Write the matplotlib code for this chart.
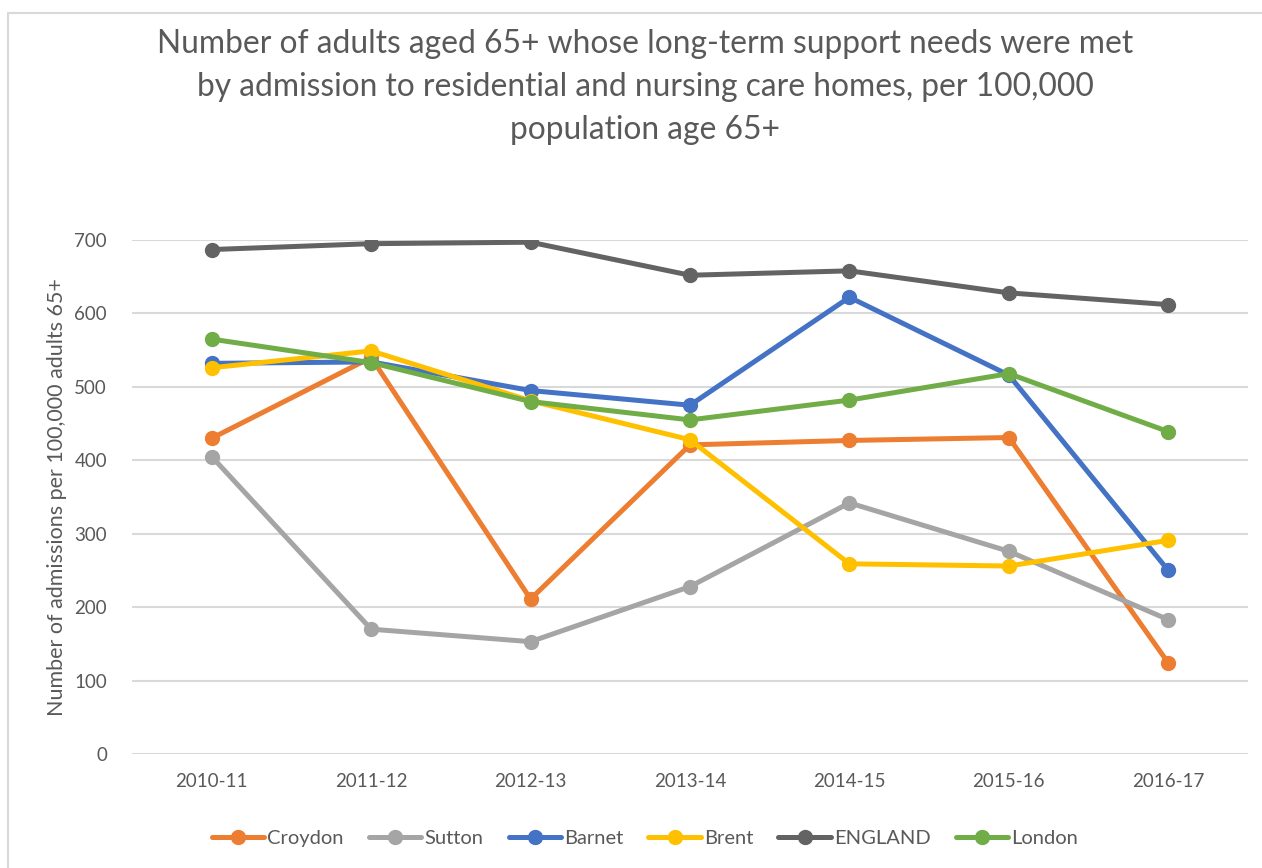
import matplotlib
matplotlib.use("Agg")
import matplotlib.pyplot as plt
from matplotlib.patches import Rectangle

years = ["2010-11", "2011-12", "2012-13", "2013-14", "2014-15", "2015-16", "2016-17"]

croydon = [430, 540, 211, 421, 427, 431, 124]
sutton = [405, 170, 153, 228, 342, 276, 183]
barnet = [532, 534, 495, 475, 622, 516, 250]
brent = [526, 549, 481, 428, 259, 256, 291]
england = [687, 695, 697, 652, 658, 628, 612]
london = [565, 533, 480, 455, 482, 518, 439]

series = [
    ("Croydon", croydon, "#ED7D31"),
    ("Sutton", sutton, "#A5A5A5"),
    ("Barnet", barnet, "#4472C4"),
    ("Brent", brent, "#FFC000"),
    ("ENGLAND", england, "#636363"),
    ("London", london, "#70AD47"),
]

title = ("Number of adults aged 65+ whose long-term support needs were met\n"
         "by admission to residential and nursing care homes, per 100,000\n"
         "population age 65+")

plt.rcParams["font.family"] = ["Lato", "DejaVu Sans"]
text_col = "#595959"
grid_col = "#D9D9D9"

fig = plt.figure(figsize=(12.62, 8.68), dpi=100)
ax = fig.add_axes([132 / 1262, 1 - 754 / 868, (1248 - 132) / 1262, (754 - 240) / 868])

# chart border (only top and left edges are visible in the reference)
fig.patches.append(Rectangle((8 / 1262, -0.1), 1.2, 1 - 13 / 868 + 0.1,
                             transform=fig.transFigure, fill=False,
                             edgecolor=grid_col, linewidth=1.5))

x = list(range(len(years)))
for name, vals, col in series:
    ax.plot(x, vals, color=col, linewidth=3.6, marker="o", markersize=10,
            label=name, solid_capstyle="round")

ax.set_xlim(-0.5, len(years) - 0.5)
ax.set_ylim(0, 700)
ax.set_yticks(range(0, 701, 100))
ax.set_xticks(x)
ax.set_xticklabels(years)
ax.grid(axis="y", color=grid_col, linewidth=1.5)
ax.set_axisbelow(True)
for side in ["top", "right", "left", "bottom"]:
    ax.spines[side].set_visible(False)
ax.tick_params(axis="both", length=0, labelsize=13.5, labelcolor=text_col)
ax.tick_params(axis="y", pad=18)
ax.tick_params(axis="x", pad=14)
ax.set_ylabel("Number of admissions per 100,000 adults 65+", fontsize=15.5,
              color=text_col, labelpad=5)

fig.text(645 / 1262, 1 - 29 / 868, title, ha="center", va="top", fontsize=22.9,
         color=text_col, linespacing=1.55)

ax.legend(loc="center", bbox_to_anchor=(645 / 1262, 1 - 838 / 868),
          bbox_transform=fig.transFigure, ncol=6, frameon=False,
          fontsize=14.5, labelcolor=text_col, handlelength=2.6,
          handletextpad=0.15, columnspacing=1.25)

fig.savefig("out.png", dpi=100)
